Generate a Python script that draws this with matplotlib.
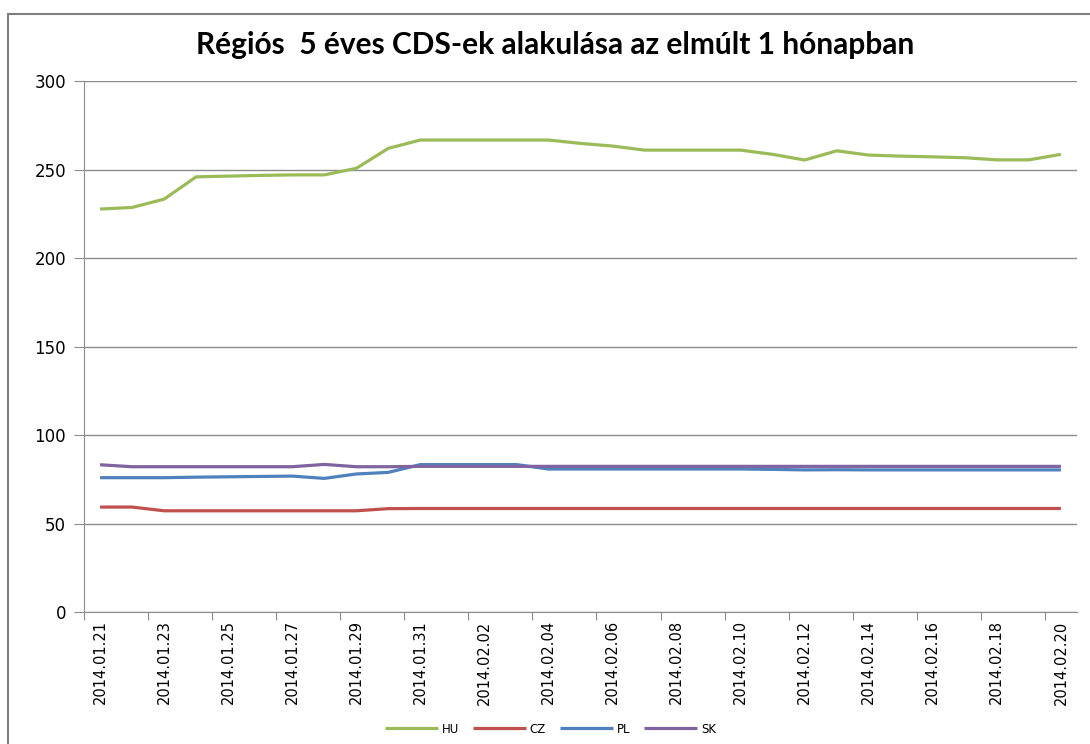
import matplotlib
matplotlib.use("Agg")
from matplotlib import pyplot as plt
from matplotlib.patches import Rectangle

# daily dates, 2014.01.21 - 2014.02.20
dates = ["2014.01.%02d" % d for d in range(21, 32)] + ["2014.02.%02d" % d for d in range(1, 21)]

hu = [227.7, 228.6, 233.3, 245.9, 246.3, 246.7, 247.0, 247.0, 250.7, 262.0,
      266.7, 266.7, 266.7, 266.7, 266.7, 264.8, 263.3, 261.0, 261.0, 261.0,
      261.0, 258.6, 255.4, 260.6, 258.2, 257.6, 257.2, 256.7, 255.5, 255.5, 258.6]
cz = [59.3, 59.3, 57.2, 57.2, 57.2, 57.2, 57.2, 57.2, 57.2, 58.4,
      58.5, 58.5, 58.5, 58.5, 58.5, 58.5, 58.5, 58.5, 58.5, 58.5,
      58.5, 58.5, 58.5, 58.5, 58.5, 58.5, 58.5, 58.5, 58.5, 58.5, 58.5]
pl = [75.9, 75.9, 75.9, 76.2, 76.4, 76.6, 76.8, 75.5, 78.0, 78.9,
      83.3, 83.3, 83.3, 83.3, 80.8, 80.8, 80.8, 80.8, 80.8, 80.8,
      80.8, 80.6, 80.3, 80.4, 80.3, 80.3, 80.3, 80.3, 80.3, 80.3, 80.3]
sk = [83.2, 82.1, 82.1, 82.1, 82.1, 82.1, 82.1, 83.4, 82.1, 82.1,
      82.3, 82.3, 82.3, 82.3, 82.3, 82.3, 82.3, 82.3, 82.3, 82.3,
      82.3, 82.3, 82.3, 82.3, 82.3, 82.3, 82.3, 82.3, 82.3, 82.3, 82.3]

series = [("HU", hu, "#9BBB59"), ("CZ", cz, "#C0504D"),
          ("PL", pl, "#4F81BD"), ("SK", sk, "#8064A2")]

fig = plt.figure(figsize=(10.9, 7.44), dpi=100)
ax = fig.add_axes([0.0771, 0.1774, 0.9109, 0.7136])

# chart frame
fig.patches.append(Rectangle((8 / 1090, -0.1), 1.2, (744 - 14) / 744 + 0.1,
                             transform=fig.transFigure, fill=False,
                             edgecolor="#7F7F7F", linewidth=1.5))

x = list(range(len(dates)))
for name, vals, col in series:
    ax.plot(x, vals, color=col, linewidth=2.3, label=name, solid_capstyle="butt")

ax.set_xlim(-0.5, len(dates) - 0.5)
ax.set_ylim(0, 300)
ax.set_yticks(range(0, 301, 50))
ax.grid(axis="y", color="#8C8C8C", linewidth=1)
ax.set_axisbelow(True)

# tick marks at category boundaries, labels every other day
ax.set_xticks([i - 0.5 for i in range(0, len(dates) + 1, 2)])
ax.set_xticklabels([])
ax.set_xticks(x[::2], minor=True)
ax.set_xticklabels(dates[::2], minor=True, rotation=90, fontsize=10.5,
                   family="DejaVu Sans")
ax.tick_params(axis="x", which="minor", length=0, pad=6)
ax.tick_params(axis="x", which="major", length=6, color="#8C8C8C")
ax.tick_params(axis="y", length=7, color="#8C8C8C", labelsize=12, pad=6)

for s in ["top", "right"]:
    ax.spines[s].set_visible(False)
for s in ["left", "bottom"]:
    ax.spines[s].set_color("#8C8C8C")

fig.text(0.509, 0.939, "Régiós  5 éves CDS-ek alakulása az elmúlt 1 hónapban",
         ha="center", va="center", fontsize=21.5, fontweight="bold", family="Lato")

fig.legend(loc="center", bbox_to_anchor=(0.505, 0.02), ncol=4, frameon=False,
           fontsize=8.5, handlelength=4.5, columnspacing=1.2, handletextpad=0.3)

plt.savefig("out.png", dpi=100)
